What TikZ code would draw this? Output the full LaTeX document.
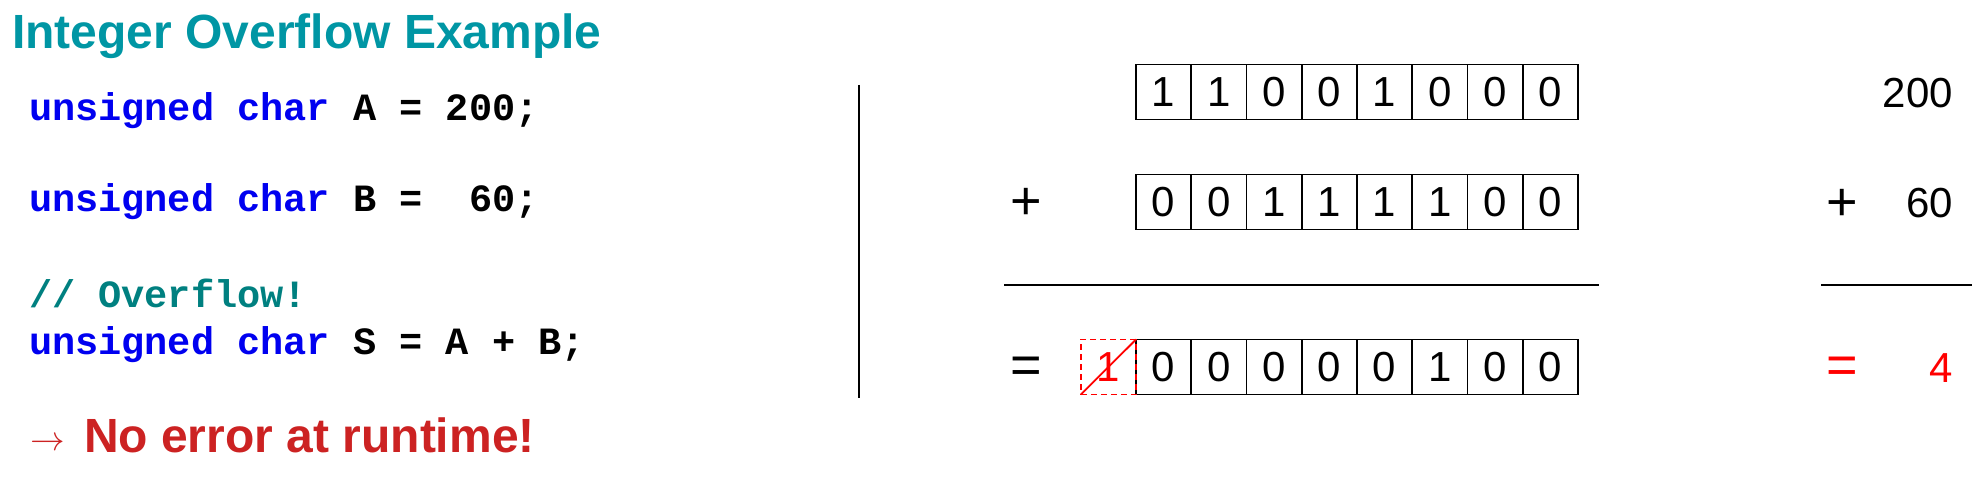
\documentclass[tikz,border=0pt]{standalone}
\usepackage{fontspec}
\setmainfont{Liberation Sans}
\newfontfamily\codefont{Liberation Mono}
\definecolor{titleteal}{RGB}{0,150,164}
\definecolor{kwblue}{RGB}{0,0,240}
\definecolor{cmteal}{RGB}{0,128,128}
\definecolor{errred}{RGB}{204,34,34}
\definecolor{pure}{RGB}{255,0,0}
\begin{document}
\begin{tikzpicture}[x=0.5pt,y=-0.5pt,
  every node/.style={inner sep=0pt, outer sep=0pt},
  titletext/.style={anchor=base west, text=titleteal, font=\fontsize{24}{28}\selectfont\bfseries},
  codeline/.style={anchor=base west, font=\codefont\bfseries\fontsize{19.3}{23}\selectfont},
  cell/.style={draw, line width=0.9pt, minimum width=27.6pt, minimum height=27.5pt, font=\fontsize{21}{25}\selectfont},
  carry/.style={draw=pure, dashed, dash pattern=on 3pt off 2pt, line width=0.9pt, text=pure, minimum width=27.6pt, minimum height=27.5pt, font=\fontsize{21}{25}\selectfont},
  bignum/.style={font=\fontsize{21}{25}\selectfont},
  sign/.style={font=\fontsize{27}{31}\selectfont},
  rule/.style={line width=0.9pt}]
\useasboundingbox (0,0) rectangle (1976,486);

% title
\node[titletext] (title) at (12,49) {Integer Overflow Example};

% code
\node[codeline] (l1) at (29,121) {\textcolor{kwblue}{unsigned char} A = 200;};
\node[codeline] (l2) at (29,212) {\textcolor{kwblue}{unsigned char} B =\ \ 60;};
\node[codeline, text=cmteal] (l3) at (29,307) {// Overflow!};
\node[codeline] (l4) at (29,354) {\textcolor{kwblue}{unsigned char} S = A + B;};

% error message
\node[anchor=base west, text=errred, font=\fontsize{17}{20}\selectfont] (arr) at (30,450) {$\rightarrow$};
\node[anchor=base west, text=errred, font=\fontsize{24}{28}\selectfont\bfseries] (err) at (84,452) {No error at runtime!};

% separator
\coordinate (vt) at (859,85);
\coordinate (vb) at (859,398);
\draw[rule] (vt) -- (vb);

% binary rows
\foreach \b [count=\i] in {1,1,0,0,1,0,0,0}
  \node[cell] (a\i) at ({1136+55.25*(\i-0.5)},92) {\b};
\foreach \b [count=\i] in {0,0,1,1,1,1,0,0}
  \node[cell] (b\i) at ({1136+55.25*(\i-0.5)},202) {\b};
\foreach \b [count=\i] in {0,0,0,0,0,1,0,0}
  \node[cell] (s\i) at ({1136+55.25*(\i-0.5)},367) {\b};
\node[carry] (c0) at ({1136-27.6},367) {1};
\draw[pure, line width=0.9pt] (c0.south west) -- (c0.north east);

\node[sign] (plusL) at (1026,204) {+};
\node[sign] (eqL) at (1026,370) {=};
\coordinate (hl1) at (1004,285);
\coordinate (hr1) at (1599,285);
\draw[rule] (hl1) -- (hr1);

% decimal column
\node[bignum, anchor=east] (d200) at (1953,93) {200};
\node[bignum, anchor=east] (d60) at (1953,203) {60};
\node[bignum, anchor=east, text=pure] (d4) at (1953,368) {4};
\node[sign] (plusR) at (1842,205) {+};
\node[sign, text=pure] (eqR) at (1842,370) {=};
\coordinate (hl2) at (1821,285);
\coordinate (hr2) at (1972,285);
\draw[rule] (hl2) -- (hr2);
\end{tikzpicture}
\end{document}
